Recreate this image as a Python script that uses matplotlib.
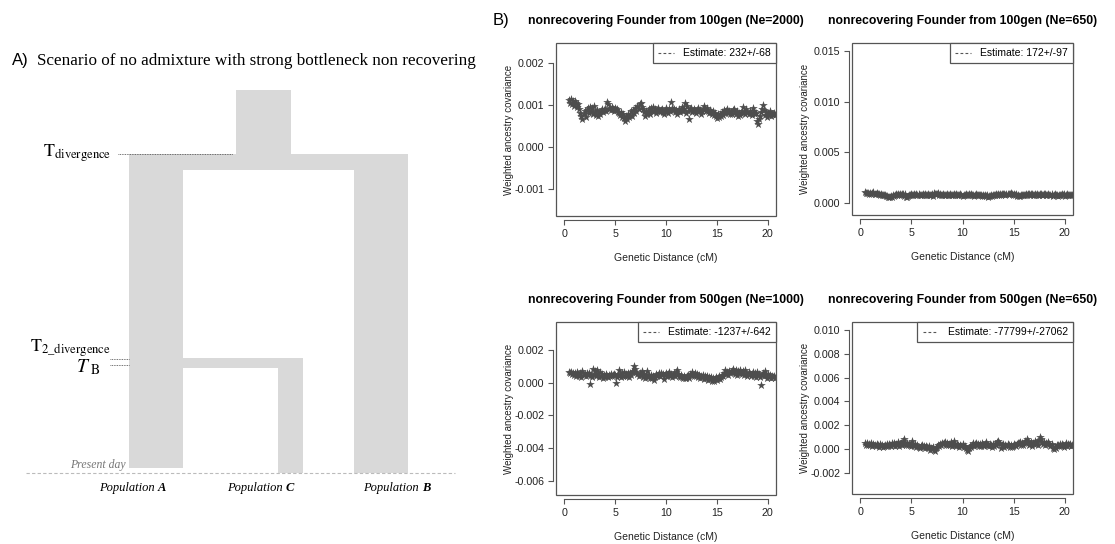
import numpy as np
import matplotlib.pyplot as plt
from matplotlib.patches import Rectangle
from matplotlib.lines import Line2D

plt.rcParams['font.family'] = ['Liberation Sans', 'DejaVu Sans']
plt.rcParams['mathtext.fontset'] = 'stix'

W, H = 1115, 544

# weighted ancestry covariance, in units of 1e-4, one value per 0.1 cM bin from 0.5 cM
cov_100_2000 = [
    11.2, 10.6, 11.4, 10.2, 10.9, 9.8, 11.1, 10.4, 9.6, 10.3,
    9.1, 8.2, 7.4, 6.8, 7.9, 8.6, 7.2, 8.8, 9.4, 8.1,
    9.6, 8.7, 9.3, 8.0, 9.7, 8.4, 7.6, 8.9, 7.3, 8.2,
    7.8, 8.5, 9.0, 8.3, 8.8, 9.2, 8.6, 10.8, 10.3, 9.1,
    9.4, 8.9, 9.5, 9.1, 8.7, 9.3, 8.8, 9.0, 8.4, 8.1,
    7.6, 8.3, 7.2, 8.0, 6.9, 6.3, 7.4, 6.8, 8.0, 7.1,
    7.7, 8.5, 7.3, 8.9, 8.2, 9.4, 8.6, 9.7, 9.1, 10.2,
    10.4, 9.6, 9.0, 8.3, 7.4, 8.6, 7.8, 8.4, 9.2, 8.0,
    9.3, 8.7, 9.6, 8.5, 9.1, 8.2, 8.8, 9.4, 8.6, 8.3,
    8.9, 9.2, 8.4, 8.0, 8.7, 9.3, 8.5, 8.1, 9.0, 8.6,
    10.7, 9.4, 8.8, 9.1, 8.3, 8.9, 7.9, 8.5, 9.2, 8.4,
    8.8, 9.5, 8.6, 9.0, 10.4, 8.2, 9.8, 8.7, 6.6, 9.1,
    9.3, 8.4, 9.0, 8.6, 8.1, 8.8, 9.3, 8.5, 8.9, 8.0,
    8.6, 9.2, 9.8, 9.0, 8.7, 9.4, 8.5, 8.1, 8.8, 8.3,
    7.9, 8.5, 7.6, 8.2, 7.3, 6.9, 7.8, 7.1, 8.0, 7.5,
    8.3, 7.7, 8.9, 8.1, 8.6, 9.0, 8.2, 8.7, 7.9, 8.4,
    8.0, 8.8, 9.1, 8.3, 7.8, 8.5, 7.5, 8.1, 7.7, 8.2,
    8.6, 9.6, 8.4, 8.0, 9.2, 8.3, 7.9, 8.7, 8.1, 7.6,
    9.3, 8.5, 7.8, 8.2, 6.2, 5.4, 6.8, 7.5, 8.4, 9.0,
    10.0, 8.8, 7.6, 8.3, 7.2, 8.1, 7.7, 8.5, 7.4, 8.0,
    7.8, 8.2, 7.6, 8.0,
]
cov_100_650 = [
    10.4, 9.6, 10.1, 9.3, 8.9, 9.8, 8.6, 9.4, 10.6, 9.0,
    8.7, 9.5, 8.3, 9.1, 7.9, 8.5, 7.8, 8.2, 7.4, 7.9,
    6.5, 7.1, 5.6, 6.2, 5.3, 6.8, 5.9, 7.5, 6.6, 8.1,
    8.6, 7.7, 9.2, 8.0, 8.8, 7.5, 9.0, 8.3, 7.2, 8.5,
    6.1, 5.4, 7.0, 8.1, 7.6, 8.7, 8.2, 7.4, 8.9, 7.9,
    8.4, 7.7, 8.8, 7.3, 8.1, 7.6, 8.5, 7.9, 8.3, 7.5,
    8.0, 8.6, 7.4, 8.2, 7.8, 8.7, 7.1, 9.4, 8.8, 9.1,
    8.5, 9.3, 7.9, 8.4, 7.6, 8.1, 8.6, 7.3, 8.0, 7.7,
    8.3, 7.5, 8.0, 8.7, 7.8, 8.2, 7.4, 8.5, 7.9, 8.6,
    7.6, 8.1, 7.3, 8.4, 7.9, 7.0, 8.2, 7.7, 8.5, 8.0,
    7.4, 8.3, 7.8, 8.6, 7.5, 8.1, 7.2, 7.9, 8.4, 7.6,
    8.0, 7.3, 7.7, 8.2, 7.1, 7.6, 6.6, 7.3, 6.9, 7.8,
    6.2, 7.0, 6.5, 7.4, 6.8, 7.6, 8.1, 7.3, 8.4, 7.8,
    8.5, 7.9, 8.8, 8.2, 9.0, 8.4, 8.7, 8.1, 9.2, 8.6,
    9.0, 8.3, 9.3, 8.7, 8.0, 8.8, 7.6, 8.4, 7.2, 7.8,
    7.1, 6.7, 7.5, 7.9, 7.3, 8.2, 7.7, 8.5, 8.0, 8.8,
    8.3, 7.8, 8.6, 9.1, 8.2, 7.6, 8.4, 7.9, 8.7, 8.1,
    7.5, 8.3, 8.8, 8.0, 7.7, 8.5, 9.2, 8.1, 7.8, 8.6,
    8.2, 7.6, 8.4, 7.1, 7.9, 8.3, 7.5, 8.0, 6.9, 7.7,
    8.1, 7.4, 8.6, 7.8, 8.3, 7.2, 7.9, 8.5, 7.6, 8.2,
    7.7, 8.0, 7.3, 8.4,
]
cov_500_1000 = [
    6.3, 5.8, 6.6, 5.2, 6.0, 4.5, 5.7, 3.8, 6.4, 5.0,
    4.2, 5.9, 3.4, 6.8, 4.7, 5.3, 3.9, 6.1, 4.4, 5.6,
    -0.6, 4.8, 3.3, 8.2, 5.5, 6.9, 4.1, 7.4, 5.8, 3.6,
    6.5, 4.0, 5.2, 3.1, 4.6, 3.7, 5.0, 4.3, 3.5, 4.8,
    4.1, 5.3, 3.8, 4.9, 5.5, 4.4, -0.4, 3.2, 5.1, 7.8,
    4.5, 3.4, 5.6, 4.0, 6.2, 3.8, 5.4, 4.3, 6.0, 3.6,
    5.7, 4.6, 6.4, 7.1, 9.9, 8.3, 6.6, 5.2, 3.9, 5.8,
    4.4, 6.9, 3.3, 5.5, 2.9, 4.7, 6.8, 3.6, 4.9, 3.1,
    4.6, 2.7, 4.0, 1.6, 3.4, 5.1, 3.8, 4.5, 5.9, 4.2,
    6.1, 4.8, 5.4, 2.3, 4.6, 5.7, 3.9, 5.2, 6.3, 4.0,
    5.5, 3.7, 4.9, 5.8, 4.2, 6.4, 7.5, 5.0, 4.1, 3.2,
    4.6, 3.5, 2.8, 4.3, 3.1, 2.6, 3.9, 4.7, 3.0, 5.2,
    4.4, 6.6, 3.8, 5.9, 4.1, 5.4, 3.3, 4.8, 2.9, 4.0,
    3.6, 4.5, 2.2, 3.9, 3.0, 4.3, 1.8, 3.4, 2.5, 3.7,
    1.2, 2.8, 0.8, 2.1, 3.3, 1.5, 2.6, 4.0, 2.4, 3.6,
    4.8, 3.9, 6.1, 7.9, 5.4, 6.6, 4.5, 7.2, 5.8, 6.4,
    7.0, 8.6, 6.2, 5.5, 7.4, 4.9, 6.8, 5.6, 7.7, 6.0,
    5.1, 6.9, 4.6, 7.5, 5.8, 4.2, 6.3, 5.0, 3.8, 5.5,
    6.2, 4.1, 5.7, 3.4, 6.6, 4.8, 5.2, 3.6, -1.4, 4.5,
    5.9, 3.8, 7.1, 4.6, 2.9, 5.3, 3.5, 4.4, 2.7, 3.9,
    3.2, 4.1, 2.6, 3.5,
]
cov_500_650 = [
    4.8, 3.6, 5.2, 2.9, 4.4, 3.3, 5.0, 2.6, 4.1, 3.7,
    2.8, 4.5, 3.2, 1.9, 3.8, 2.4, 3.0, 1.6, 2.7, 3.5,
    2.1, 3.9, 2.6, 4.3, 3.1, 2.3, 4.6, 3.4, 5.1, 2.8,
    4.0, 3.2, 5.5, 2.7, 3.8, 4.9, 3.0, 6.8, 8.1, 4.2,
    3.5, 5.0, 2.9, 4.4, 3.1, 2.2, 6.3, 3.7, 2.5, 4.0,
    1.8, 3.3, 2.0, 1.1, 2.8, 3.6, 1.5, 2.4, 0.9, 2.1,
    1.3, 0.4, 2.2, -0.5, 1.0, 0.2, 1.7, -1.3, -2.0, 0.6,
    1.9, 3.4, 2.5, 4.1, 3.0, 5.2, 3.8, 4.6, 5.9, 3.5,
    4.8, 2.9, 4.3, 3.2, 5.6, 2.6, 4.0, 7.0, 3.7, 2.4,
    4.5, 3.1, 1.9, 3.6, 2.3, 4.2, 1.5, 2.8, 0.7, -0.9,
    -1.8, 0.9, 2.2, 1.4, 3.5, 4.6, 2.7, 3.9, 5.3, 3.2,
    4.4, 2.5, 3.8, 2.1, 4.9, 3.3, 2.6, 4.1, 5.5, 3.0,
    3.6, 2.2, 4.3, 3.1, 1.8, 3.9, 2.7, 4.5, 3.4, 5.6,
    7.1, 5.0, 3.8, 1.2, 2.9, 4.2, 1.9, 3.5, 2.6, 4.0,
    3.1, 2.0, 3.7, 1.6, 2.8, 4.4, 3.3, 2.4, 3.9, 5.2,
    4.6, 6.0, 3.5, 5.4, 2.9, 4.8, 6.5, 5.1, 8.2, 6.8,
    3.1, 4.5, 6.1, 2.7, 5.0, 3.9, 6.4, 4.3, 5.7, 3.6,
    7.3, 10.1, 8.4, 5.5, 4.2, 6.0, 3.4, 5.2, 4.0, 6.2,
    3.8, 2.6, 4.5, 1.2, 0.1, 1.8, 0.8, 2.9, 3.6, 2.3,
    3.9, 2.7, 4.2, 3.0, 1.9, 3.5, 4.6, 2.4, 3.8, 3.1,
    4.0, 2.8, 3.6, 3.3,
]

titles = [
    'nonrecovering Founder from 100gen (Ne=2000)',
    'nonrecovering Founder from 100gen (Ne=650)',
    'nonrecovering Founder from 500gen (Ne=1000)',
    'nonrecovering Founder from 500gen (Ne=650)',
]
estimates = ['232+/-68', '172+/-97', '-1237+/-642', '-77799+/-27062']
series = [cov_100_2000, cov_100_650, cov_500_1000, cov_500_650]
ylims = [(-0.00164, 0.00248), (-0.0012, 0.0158), (-0.00686, 0.0037), (-0.0038, 0.0107)]
yticks = [
    [-0.001, 0.0, 0.001, 0.002],
    [0.0, 0.005, 0.010, 0.015],
    [-0.006, -0.004, -0.002, 0.0, 0.002],
    [-0.002, 0.0, 0.002, 0.004, 0.006, 0.008, 0.010],
]
xticks = [0, 5, 10, 15, 20]

# panel boxes in pixels (left, top, right, bottom)
boxes = [(556, 43, 776, 216), (852, 43, 1073, 215),
         (556, 322, 776, 495), (852, 322, 1073, 494)]

STAR = '#4d4d4d'
FRAME = '#555555'
BAR = '#d9d9d9'

fig = plt.figure(figsize=(W / 100, H / 100), dpi=100)

# ---- A) population tree diagram, drawn in pixel coordinates ----
ax0 = fig.add_axes([0, 0, 1, 1])
ax0.set_xlim(0, W)
ax0.set_ylim(H, 0)
ax0.axis('off')

t_div, t2_div, t_b, present = 154, 359, 365, 473
rects = [
    (236, 90, 291, t_div),        # ancestral population
    (129, t_div, 408, 170),       # split bar
    (129, 170, 183, 468),         # population A
    (354, 170, 408, present),     # population B
    (183, 358, 303, 368),         # branch to C
    (278, 368, 303, present),     # population C
]
for x0, y0, x1, y1 in rects:
    ax0.add_patch(Rectangle((x0, y0), x1 - x0, y1 - y0, color=BAR, lw=0))

ax0.plot([118, 233], [t_div, t_div], ls=(0, (1, 1)), color='#444444', lw=0.6)
ax0.plot([110, 129], [t2_div, t2_div], ls=(0, (1, 1)), color='#444444', lw=0.6)
ax0.plot([110, 129], [t_b, t_b], ls=(0, (1, 1)), color='#444444', lw=0.6)
ax0.plot([26, 455], [present, present], ls=(0, (3, 2)), color='#bbbbbb', lw=0.8)

ax0.text(43, 153, r'$\mathrm{T}_{\mathrm{divergence}}$', fontsize=13, va='center', ha='left')
ax0.text(30, 348, r'$\mathrm{T}_{\mathrm{2\_divergence}}$', fontsize=13, va='center', ha='left')
ax0.text(100, 367, r'$T_{\ \mathrm{B}}$', fontsize=14, va='center', ha='right')
ax0.text(126, 465, 'Present day', family='Liberation Serif', style='italic',
         fontsize=8.5, color='#777777', va='center', ha='right')

for name, split in [('A', 158), ('C', 286), ('B', 422)]:
    ax0.text(split, 488, 'Population ', family='Liberation Serif', style='italic',
             fontsize=9, va='center', ha='right')
    ax0.text(split, 488, name, family='Liberation Serif', style='italic',
             weight='bold', fontsize=9, va='center', ha='left')

fig.text(12 / W, 1 - 61 / H, 'A)', fontsize=12, va='center', ha='left')
fig.text(37 / W, 1 - 61 / H, 'Scenario of no admixture with strong bottleneck non recovering',
         family='Liberation Serif', fontsize=12.3, va='center', ha='left')
fig.text(493 / W, 1 - 20 / H, 'B)', fontsize=12, va='center', ha='left')

# ---- B) weighted ancestry covariance panels ----
for box, y, title, est, ylim, yt in zip(boxes, series, titles, estimates, ylims, yticks):
    l, t, r, b = box
    ax = fig.add_axes([l / W, 1 - b / H, (r - l) / W, (b - t) / H])
    y = np.array(y) * 1e-4
    dist = np.round(0.5 + 0.1 * np.arange(len(y)), 1)
    ax.scatter(dist, y, marker='*', s=42, color=STAR, linewidths=0, zorder=3)
    ax.set_xlim(-0.8, 20.8)
    ax.set_ylim(*ylim)
    ax.set_xticks(xticks)
    ax.set_xticklabels([str(v) for v in xticks])
    ax.set_yticks(yt)
    ax.set_yticklabels([f'{v:.3f}' for v in yt])

    for s in ['top', 'right']:
        ax.spines[s].set_visible(False)
    ax.spines['bottom'].set_position(('outward', 3))
    ax.spines['bottom'].set_bounds(0, 20)
    ax.spines['left'].set_position(('outward', 2))
    ax.spines['left'].set_bounds(yt[0], yt[-1])
    for s in ['bottom', 'left']:
        ax.spines[s].set_color(FRAME)
        ax.spines[s].set_linewidth(0.8)
    ax.add_patch(Rectangle((0, 0), 1, 1, transform=ax.transAxes, fill=False,
                           ec=FRAME, lw=0.9, clip_on=False, zorder=4))
    ax.tick_params(direction='out', length=3.5, width=0.8, color=FRAME,
                   labelsize=7.7, pad=3, labelcolor='#222222')

    ax.set_title(title, fontsize=8.8, fontweight='bold', pad=14)
    ax.set_ylabel('Weighted ancestry covariance', fontsize=7, color='#222222')
    ax.yaxis.set_label_coords(-42 / (r - l), 0.5)
    ax.set_xlabel('Genetic Distance (cM)', fontsize=7.5, color='#222222')
    ax.xaxis.set_label_coords(0.5, -37 / (b - t))

    handle = Line2D([], [], ls=(0, (2.5, 2)), color='#555555', lw=0.8)
    leg = ax.legend([handle], [f'Estimate: {est}'], loc='upper right', borderaxespad=0,
                    fancybox=False, edgecolor=FRAME, framealpha=1, fontsize=7.5,
                    handlelength=1.5, handletextpad=0.9, borderpad=0.5)
    leg.get_frame().set_linewidth(0.9)
    leg.set_zorder(5)

fig.savefig('out.png', dpi=100)
